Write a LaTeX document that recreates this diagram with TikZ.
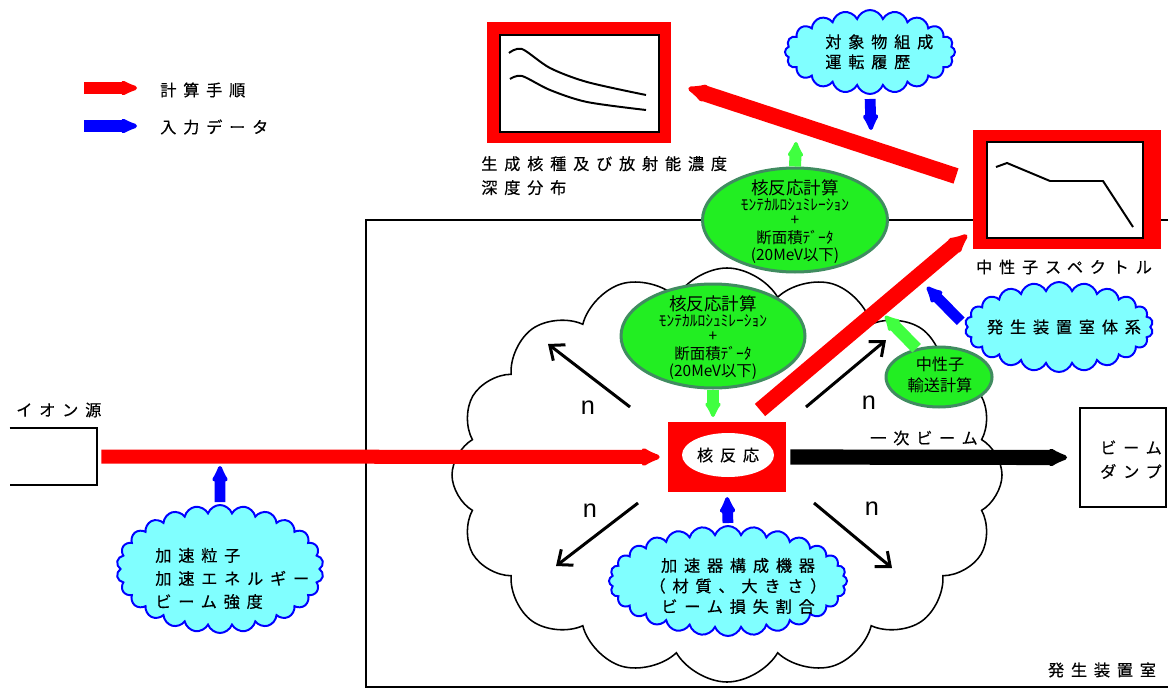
\documentclass[tikz,border=0pt]{standalone}
\usepackage{fontspec}
\setmainfont{Noto Sans CJK JP}
\newfontfamily\jpwide[LetterSpace=42,FakeBold=0.4]{Noto Sans CJK JP}
\newfontfamily\latinsans{Liberation Sans}
\usetikzlibrary{arrows.meta,shapes.geometric,shapes.symbols}

\definecolor{cloudcyan}{RGB}{128,255,255}
\definecolor{calcgreen}{RGB}{34,238,34}
\definecolor{calcedge}{RGB}{64,140,96}
\definecolor{feedgreen}{RGB}{64,255,64}

% one pixel of the drawing grid
\newcommand{\px}{0.025cm}

\tikzset{
	widetext/.style={font=\jpwide\fontsize{11.5pt}{17pt}\selectfont, inner sep=0pt},
	calcflow/.style={draw=red, line width=0.35cm, -{Latex[round,length=0.6cm,width=0.55cm]}},
	inputarrow/.style={draw=blue, line width=0.27cm, -{Latex[round,length=0.5cm,width=0.48cm]}},
	calcarrow/.style={draw=feedgreen, line width=0.3cm, -{Latex[round,length=0.45cm,width=0.48cm]}},
	narrow/.style={line width=0.075cm, -{Straight Barb[length=0.3cm,width=0.5cm]}},
	calcbubble/.style={ellipse, draw=calcedge, fill=calcgreen, line width=0.075cm, inner sep=0pt},
	datacloud/.style={cloud, cloud puffs=24, cloud puff arc=140, cloud ignores aspect, draw=blue, fill=cloudcyan, line width=1.4pt, inner sep=0pt},
	plotframe/.style={fill=red, inner sep=0pt},
	plotarea/.style={draw, fill=white, line width=2pt, inner sep=0pt}
}

\begin{document}
\begin{tikzpicture}[x=0.025cm,y=-0.025cm]
	\useasboundingbox (0,0) rectangle (1168,689);

	% legend
	\coordinate (legredfrom) at (84,88);
	\coordinate (legredto) at (137,88);
	\coordinate (legbluefrom) at (84,126);
	\coordinate (legblueto) at (137,126);
	\draw[calcflow, line width=0.28cm, -{Latex[round,length=0.55cm,width=0.45cm]}] (legredfrom) -- (legredto);
	\draw[inputarrow, line width=0.28cm, -{Latex[round,length=0.55cm,width=0.45cm]}] (legbluefrom) -- (legblueto);
	\node[widetext, anchor=west] (legcalc) at (160,90) {計算手順};
	\node[widetext, anchor=west] (leginput) at (160,127) {入力データ};

	% room walls
	\draw[line width=1.4pt] (1168,220) -- (366,220) -- (366,687) -- (1168,687);
	\node[widetext] (roomlabel) at (1102,670) {発生装置室};

	% reaction region
	\node[cloud, cloud puffs=16, cloud puff arc=120, cloud ignores aspect, draw, fill=white, line width=1.1pt, inner sep=0pt, minimum width=550*\px, minimum height=414*\px] (reactcloud) at (727,475) {};

	% depth distribution plot
	\node[plotframe, minimum width=184*\px, minimum height=121*\px] (depthplot) at (579,82.5) {};
	\node[plotarea, minimum width=159*\px, minimum height=97*\px] (deptharea) at (579.5,83.5) {};
	\draw[line width=1.4pt] plot[smooth] coordinates {(509,53) (522,49) (550,68) (587,82) (646,95)};
	\draw[line width=1.4pt] plot[smooth] coordinates {(510,79) (522,76) (550,90) (587,102) (646,110)};
	\node[widetext, anchor=west] (depthlabel) at (481,177) {\begin{tabular}{@{}l@{}}生成核種及び放射能濃度\\深度分布\end{tabular}};

	% neutron spectrum plot
	\node[plotframe, minimum width=188*\px, minimum height=119*\px] (spec) at (1067,189.5) {};
	\node[plotarea, minimum width=156*\px, minimum height=96*\px] (specarea) at (1065,190) {};
	\draw[line width=1.4pt] (996,167) -- (1007,163) -- (1050,181) -- (1103,181) -- (1133,227);
	\node[widetext] (speclabel) at (1064,267) {中性子スペクトル};

	% target composition
	\node[datacloud, cloud puffs=20, minimum width=170*\px, minimum height=84*\px] (topcloud) at (870,52) {};
	\node[widetext, anchor=west, font=\jpwide\fontsize{11.5pt}{14.2pt}\selectfont] (topcloudtext) at (825,54) {\begin{tabular}{@{}l@{}}対象物組成\\運転履歴\end{tabular}};
	\coordinate (topcloudto) at (871,130);
	\draw[inputarrow, shorten <=0.1cm] (topcloud.south) -- (topcloudto);

	% room geometry
	\node[datacloud, cloud puffs=22, minimum width=188*\px, minimum height=90*\px] (roomcloud) at (1059,327) {};
	\node[widetext] (roomcloudtext) at (1064,327) {発生装置室体系};
	\coordinate (roomcloudto) at (927,287);
	\draw[inputarrow, shorten <=0.2cm] (roomcloud.west) -- (roomcloudto);

	% ion source
	\node[minimum width=87*\px, minimum height=57*\px, inner sep=0pt] (ionsrc) at (53.5,456.5) {};
	\draw[line width=1.4pt] (ionsrc.north west) -- (ionsrc.north east) -- (ionsrc.south east) -- (ionsrc.south west);
	\node[widetext, anchor=west] (ionlabel) at (16,410) {イオン源};

	% beam parameters
	\node[datacloud, cloud puffs=26, minimum width=207*\px, minimum height=128*\px] (ioncloud) at (220,569) {};
	\node[widetext, anchor=west, font=\jpwide\fontsize{11.5pt}{16.4pt}\selectfont] (ioncloudtext) at (155,580) {\begin{tabular}{@{}l@{}}加速粒子\\加速エネルギー\\ビーム強度\end{tabular}};
	\coordinate (ioncloudto) at (220,466);
	\draw[inputarrow, shorten <=0.05cm] (ioncloud.north) -- (ioncloudto);

	% nuclear reaction
	\node[fill=red, minimum width=118*\px, minimum height=70*\px, inner sep=0pt] (core) at (727,457) {};
	\node[ellipse, fill=white, minimum width=92*\px, minimum height=44*\px, inner sep=0pt, widetext] (coretext) at (728,455) {核反応};

	% accelerator parts
	\node[datacloud, cloud puffs=28, minimum width=238*\px, minimum height=110*\px] (acccloud) at (728,581) {};
	\node[widetext, font=\jpwide\fontsize{11.5pt}{14.6pt}\selectfont] (acccloudtext) at (738,588) {\begin{tabular}{@{}c@{}}加速器構成機器\\（材質、大きさ）\\ビーム損失割合\end{tabular}};
	\draw[inputarrow, shorten <=0.05cm, shorten >=0.12cm] (acccloud.north) -- (core.south);

	% beam line
	\draw[calcflow, shorten <=0.1cm, shorten >=0.2cm] (ionsrc.east) -- (core.west);
	\node[draw, line width=1.4pt, minimum width=86*\px, minimum height=99*\px] (dump) at (1123,457.5) {};
	\node[widetext, font=\jpwide\fontsize{11.5pt}{17pt}\selectfont] (dumptext) at (1131,461) {\begin{tabular}{@{}c@{}}ビーム\\ダンプ\end{tabular}};
	\draw[line width=0.38cm, -{Latex[round,length=0.6cm,width=0.55cm]}, shorten <=0.1cm, shorten >=0.3cm] (core.east) -- (dump.west);
	\node[widetext] (beamlabel) at (924,438) {一次ビーム};

	% emitted neutrons
	\coordinate (nwfrom) at (630,407);
	\coordinate (nwto) at (548,344);
	\coordinate (nefrom) at (806,407);
	\coordinate (neto) at (886,340);
	\coordinate (swfrom) at (638,503);
	\coordinate (swto) at (556,566);
	\coordinate (sefrom) at (814,503);
	\coordinate (seto) at (892,568);
	\draw[narrow] (nwfrom) -- (nwto);
	\draw[narrow] (nefrom) -- (neto);
	\draw[narrow] (swfrom) -- (swto);
	\draw[narrow] (sefrom) -- (seto);
	\node[font=\latinsans\fontsize{18pt}{20pt}\selectfont, inner sep=0pt] (nwlabel) at (588,408) {n};
	\node[font=\latinsans\fontsize{18pt}{20pt}\selectfont, inner sep=0pt] (nelabel) at (869,403) {n};
	\node[font=\latinsans\fontsize{18pt}{20pt}\selectfont, inner sep=0pt] (swlabel) at (590,511) {n};
	\node[font=\latinsans\fontsize{18pt}{20pt}\selectfont, inner sep=0pt] (selabel) at (872,509) {n};

	% calculation steps
	\coordinate (diagfrom) at (760,410);
	\coordinate (spectip) at (967,235);
	\draw[calcflow, line width=0.4cm] (diagfrom) -- (spectip);
	\coordinate (retfrom) at (956,176);
	\draw[calcflow, line width=0.4cm, shorten >=0.45cm] (retfrom) -- (depthplot.east);

	\node[calcbubble, minimum width=184*\px, minimum height=104*\px] (lowcalc) at (713,336) {};
	\node[font=\fontsize{11pt}{10.5pt}\selectfont, inner sep=0pt] (lowcalctext) at (713,338) {\begin{tabular}{@{}c@{}}{\fontsize{12.5pt}{14pt}\selectfont 核反応計算}\\ﾓﾝﾃｶﾙﾛｼｭﾐﾚｰｼｮﾝ\\+\\断面積ﾃﾞｰﾀ\\(20MeV以下)\end{tabular}};
	\coordinate (lowcalcto) at (713,417);
	\draw[calcarrow] (lowcalc.south) -- (lowcalcto);

	\node[calcbubble, minimum width=185*\px, minimum height=104*\px] (upcalc) at (795,220) {};
	\node[font=\fontsize{11pt}{10.5pt}\selectfont, inner sep=0pt] (upcalctext) at (795,222) {\begin{tabular}{@{}c@{}}{\fontsize{12.5pt}{14pt}\selectfont 核反応計算}\\ﾓﾝﾃｶﾙﾛｼｭﾐﾚｰｼｮﾝ\\+\\断面積ﾃﾞｰﾀ\\(20MeV以下)\end{tabular}};
	\coordinate (upcalcto) at (796,142);
	\draw[calcarrow] (upcalc.north) -- (upcalcto);

	\node[calcbubble, minimum width=106*\px, minimum height=60*\px] (transport) at (939,377) {};
	\node[font=\fontsize{11.5pt}{15pt}\selectfont, inner sep=0pt] (transporttext) at (940,377) {\begin{tabular}{@{}c@{}}中性子\\輸送計算\end{tabular}};
	\coordinate (transportto) at (885,316);
	\draw[calcarrow] (transport.128) -- (transportto);
\end{tikzpicture}
\end{document}
